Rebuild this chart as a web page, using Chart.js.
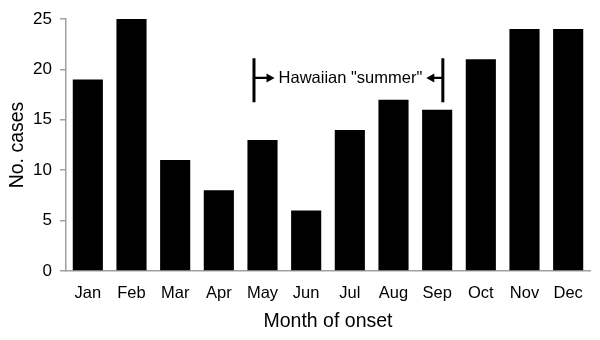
<!DOCTYPE html>
<html>
<head>
<meta charset="utf-8">
<script src="https://cdn.jsdelivr.net/npm/chart.js@4/dist/chart.umd.min.js"></script>
<style>
  html, body { margin: 0; padding: 0; background: #fff; }
  #wrap { width: 600px; height: 340px; }
</style>
</head>
<body>
<div id="wrap"><canvas id="c" width="600" height="340"></canvas></div>
<script>
const months = ['Jan', 'Feb', 'Mar', 'Apr', 'May', 'Jun', 'Jul', 'Aug', 'Sep', 'Oct', 'Nov', 'Dec'];
const cases = [19, 25, 11, 8, 13, 6, 14, 17, 16, 21, 24, 24];
const yTicks = [0, 5, 10, 15, 20, 25];
const summerStart = 'May';
const summerEnd = 'Sep';
const summerLabel = 'Hawaiian "summer"';

const FONT = '"Liberation Sans", Arial, sans-serif';
const AXIS_GREY = '#a0a0a0';

// Bracket with arrows marking the summer months above the bars
const summerBracket = {
  id: 'summerBracket',
  afterDatasetsDraw(chart) {
    const { ctx, scales: { x, y } } = chart;
    const step = x.getPixelForValue(1) - x.getPixelForValue(0);
    const left = x.getPixelForValue(months.indexOf(summerStart)) - step * 0.195;
    const right = x.getPixelForValue(months.indexOf(summerEnd)) + step * 0.13;
    const top = y.getPixelForValue(21.1);
    const bottom = y.getPixelForValue(16.75);
    const mid = y.getPixelForValue(19.15);

    ctx.save();
    ctx.strokeStyle = '#000';
    ctx.fillStyle = '#000';
    ctx.lineWidth = 3;
    ctx.beginPath();
    ctx.moveTo(left, top); ctx.lineTo(left, bottom);
    ctx.moveTo(right, top); ctx.lineTo(right, bottom);
    ctx.stroke();

    ctx.font = '16.5px ' + FONT;
    ctx.textBaseline = 'middle';
    ctx.textAlign = 'center';
    const cx = (left + right) / 2 + 2;
    const w = ctx.measureText(summerLabel).width;
    ctx.fillText(summerLabel, cx, mid);

    const gap = 4;
    const tipL = cx - w / 2 - gap;
    const tipR = cx + w / 2 + gap;
    const head = 8, half = 4.5;
    ctx.lineWidth = 2.2;
    ctx.beginPath();
    ctx.moveTo(left, mid); ctx.lineTo(tipL - head + 1, mid);
    ctx.moveTo(right, mid); ctx.lineTo(tipR + head - 1, mid);
    ctx.stroke();
    ctx.beginPath();
    ctx.moveTo(tipL, mid); ctx.lineTo(tipL - head, mid - half); ctx.lineTo(tipL - head, mid + half); ctx.closePath();
    ctx.moveTo(tipR, mid); ctx.lineTo(tipR + head, mid - half); ctx.lineTo(tipR + head, mid + half); ctx.closePath();
    ctx.fill();
    ctx.restore();
  }
};

new Chart(document.getElementById('c'), {
  type: 'bar',
  data: {
    labels: months,
    datasets: [{
      data: cases,
      backgroundColor: '#000',
      borderWidth: 0,
      categoryPercentage: 1,
      barPercentage: 0.69
    }]
  },
  options: {
    responsive: false,
    animation: false,
    layout: { padding: { top: 19, right: 10, left: 0, bottom: 0 } },
    plugins: { legend: { display: false }, tooltip: { enabled: false } },
    scales: {
      x: {
        afterFit(s) { s.height = 69; },
        grid: { display: false, drawTicks: false },
        border: { display: true, color: AXIS_GREY, width: 1.5 },
        ticks: { color: '#000', font: { family: FONT, size: 16.5 }, padding: 13, maxRotation: 0 },
        title: { display: true, text: 'Month of onset', color: '#000', font: { family: FONT, size: 19.5 }, padding: { top: 0, bottom: 7 } }
      },
      y: {
        min: 0,
        max: 25,
        afterFit(s) { s.width = 66; },
        afterBuildTicks(s) { s.ticks = yTicks.map(v => ({ value: v })); },
        grid: { drawOnChartArea: false, drawTicks: true, tickLength: 6, color: AXIS_GREY, lineWidth: 1.5 },
        border: { display: true, color: AXIS_GREY, width: 1.5 },
        ticks: { color: '#000', font: { family: FONT, size: 17 }, padding: 8 },
        title: { display: true, text: 'No. cases', color: '#000', font: { family: FONT, size: 19.5 }, padding: { top: 6, bottom: 0 } }
      }
    }
  },
  plugins: [summerBracket]
});
</script>
</body>
</html>
